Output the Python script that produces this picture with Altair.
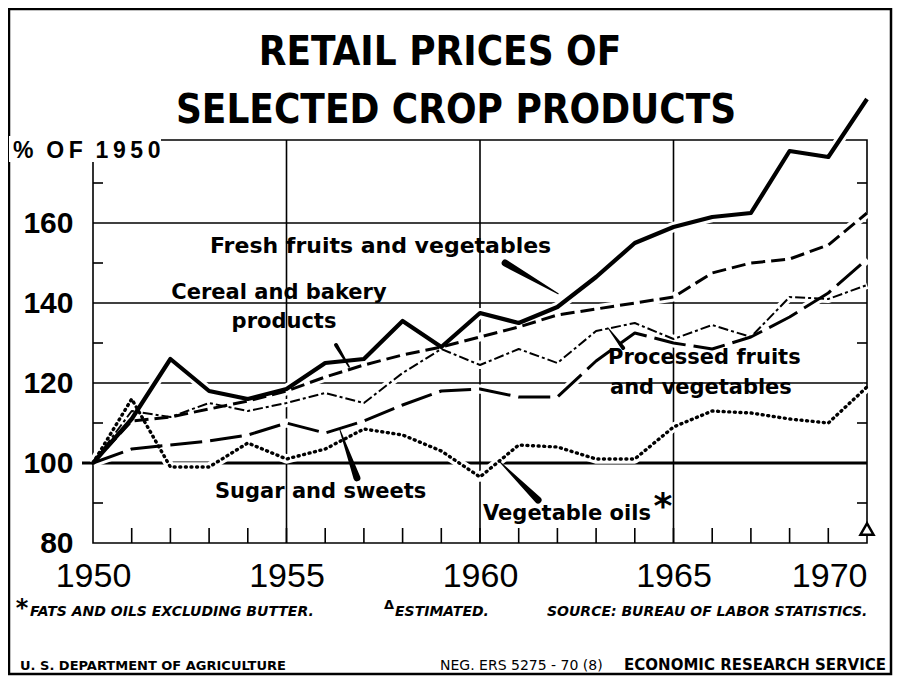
import altair as alt
import pandas as pd

# ---------------- data ----------------
years = list(range(1950, 1971))
fresh = [100, 111, 126, 118, 116, 118.5, 125, 126, 135.5, 129, 137.5, 135, 139,
         146.5, 155, 159, 161.5, 162.5, 178, 176.5, 191]
cereal = [100, 110.5, 111.5, 113.5, 115.5, 118, 121.5, 124.5, 127, 129, 131.5,
          134, 137, 138.5, 140, 141.5, 147.5, 150, 151, 154.5, 162.5]
processed = [100, 113, 111.5, 115, 113, 115, 117.5, 115, 122.5, 128.5, 124.5,
             128.5, 125, 133, 135, 131, 134.5, 131.5, 141.5, 141, 144.5]
sugar = [100, 103.5, 104.5, 105.5, 107, 110, 107.5, 110.5, 114.5, 118, 118.5,
         116.5, 116.5, 125.5, 132.5, 130, 128.5, 131.5, 136.5, 142.5, 151]
vegoil = [100, 116, 99, 99, 105, 101, 103.5, 108.5, 107, 103, 96.5, 104.5, 104,
          101, 101, 109, 113, 112.5, 111, 110, 119]
estimated_year = [1970]
estimated_value = [83.5]

x_labels = [1950, 1955, 1960, 1965, 1970]
y_labels = [80, 100, 120, 140, 160]
h_grid = [120, 140, 160]
base_line = [100]
v_grid = [1955, 1960, 1965]
minor_y = [90, 110, 130, 150, 170]
year_ticks = list(range(1951, 1970))

series_names = ["Fresh", "Cereal", "Processed", "Sugar", "Vegoil"]
series_values = [fresh, cereal, processed, sugar, vegoil]
styles = {
    "Fresh": dict(strokeWidth=4.2),
    "Cereal": dict(strokeWidth=3, strokeDash=[14, 6]),
    "Processed": dict(strokeWidth=2, strokeDash=[10, 3, 3, 3]),
    "Sugar": dict(strokeWidth=3, strokeDash=[32, 8]),
    "Vegoil": dict(strokeWidth=3.4, strokeDash=[1, 4.6], strokeCap="round"),
}

# pointer wedges (annotation geometry, in data units) : id, year, value, width
ptr_id = ["f", "f", "c", "c", "p", "p", "s", "s", "v", "v"]
ptr_order = [0, 1, 0, 1, 0, 1, 0, 1, 0, 1]
ptr_x = [1960.65, 1962.02, 1956.28, 1956.62, 1963.31, 1963.70, 1956.38, 1956.82, 1960.52, 1961.50]
ptr_y = [150.0, 142.3, 129.5, 124.0, 133.75, 128.75, 108.3, 96.3, 100.2, 90.75]
ptr_w = [7, 1, 4, 1.5, 1, 4, 1, 7, 1, 7]

rows = []
for name, vals in zip(series_names, series_values):
    for yr, v in zip(years, vals):
        rows.append({"year": yr, "value": v, "series": name})
df = pd.DataFrame(rows)

W, H = 774, 403
xsc = alt.Scale(domain=[1950, 1970], nice=False, zero=False)
ysc = alt.Scale(domain=[80, 180.75], nice=False, zero=False)

xaxis = alt.Axis(values=x_labels, format="d", title=None, ticks=False, domain=False,
                 grid=False, labelFontSize=34, labelFont="Liberation Sans",
                 labelColor="black", labelPadding=16, labelBaseline="top",
                 labelOverlap=False,
                 labelAlign=alt.ExprRef(expr="datum.value == 1970 ? 'right' : 'center'"))
yaxis = alt.Axis(values=y_labels, title=None, ticks=False, domain=False, grid=False,
                 labelFontSize=30, labelFont="Liberation Sans", labelFontWeight="bold",
                 labelColor="black", labelPadding=20, labelBaseline="middle",
                 labelOverlap=False)


def X(field):
    return alt.X(field, scale=xsc, axis=xaxis)


def Y(field):
    return alt.Y(field, scale=ysc, axis=yaxis)


one = pd.DataFrame({"k": [0]})
layers = []

# outer border
layers.append(alt.Chart(one).mark_rect(filled=False, stroke="black", strokeWidth=2.5).encode(
    x=alt.value(-84), x2=alt.value(798), y=alt.value(-131), y2=alt.value(534)))

# plot frame
layers.append(alt.Chart(one).mark_rect(filled=False, stroke="black", strokeWidth=1.6).encode(
    x=alt.value(0), x2=alt.value(W), y=alt.value(0), y2=alt.value(H)))

# grid lines
layers.append(alt.Chart(pd.DataFrame({"v": h_grid})).mark_rule(color="black", strokeWidth=1.6).encode(
    y=Y("v:Q")))
layers.append(alt.Chart(pd.DataFrame({"v": base_line})).mark_rule(color="black", strokeWidth=3).encode(
    y=Y("v:Q"), x=alt.value(-11), x2=alt.value(W)))
layers.append(alt.Chart(pd.DataFrame({"v": v_grid})).mark_rule(color="black", strokeWidth=1.6).encode(
    x=X("v:Q")))

# minor ticks
layers.append(alt.Chart(pd.DataFrame({"v": minor_y})).mark_rule(color="black", strokeWidth=1.6).encode(
    y=Y("v:Q"), x=alt.value(0), x2=alt.value(10)))
layers.append(alt.Chart(pd.DataFrame({"v": minor_y})).mark_rule(color="black", strokeWidth=1.6).encode(
    y=Y("v:Q"), x=alt.value(W - 10), x2=alt.value(W)))
layers.append(alt.Chart(pd.DataFrame({"v": year_ticks})).mark_rule(color="black", strokeWidth=1.6).encode(
    x=X("v:Q"), y=alt.value(H - 15), y2=alt.value(H)))

# halos
for name in series_names:
    sw = styles[name]["strokeWidth"]
    layers.append(alt.Chart(df).transform_filter(alt.datum.series == name).mark_line(
        color="white", strokeWidth=sw + 6, clip=False, strokeJoin="round").encode(
        x=X("year:Q"), y=Y("value:Q")))

# series lines
for name in series_names:
    layers.append(alt.Chart(df).transform_filter(alt.datum.series == name).mark_line(
        color="black", clip=False, strokeJoin="round", **styles[name]).encode(
        x=X("year:Q"), y=Y("value:Q")))

# pointers
pdf = pd.DataFrame({"id": ptr_id, "o": ptr_order, "x": ptr_x, "y": ptr_y, "w": ptr_w})
layers.append(alt.Chart(pdf).mark_trail(color="black", clip=False).encode(
    x=X("x:Q"), y=Y("y:Q"),
    size=alt.Size("w:Q", scale=None, legend=None), detail="id:N", order="o:Q"))

# estimated marker
layers.append(alt.Chart(pd.DataFrame({"year": estimated_year, "value": estimated_value})).mark_point(
    shape="triangle-up", filled=True, fill="white", stroke="black", strokeWidth=2.5,
    size=170, opacity=1, clip=False).encode(x=X("year:Q"), y=Y("value:Q")))

# white cover behind "% OF 1950"
layers.append(alt.Chart(one).mark_rect(color="white").encode(
    x=alt.value(-84), x2=alt.value(68), y=alt.value(-4), y2=alt.value(22)))


def txt(text, x, y, size, weight="bold", align="left", baseline="alphabetic",
        font="DejaVu Sans", style="normal"):
    return alt.Chart(one).mark_text(
        text=text, align=align, baseline=baseline, fontSize=size, fontWeight=weight,
        font=font, fontStyle=style, color="black").encode(x=alt.value(x), y=alt.value(y))


TITLE_FONT = "Liberation Sans Narrow, DejaVu Sans Condensed, Liberation Sans"
T = "\u2009"
N = "\u00a0"
pct_label = "%" + N + N + "O" + T + "F" + N + N + "1" + T + "9" + T + "5" + T + "0"
layers += [
    txt("RETAIL PRICES OF", 347, -75, 40, font=TITLE_FONT, align="center"),
    txt("SELECTED CROP PRODUCTS", 363, -17, 40, font=TITLE_FONT, align="center"),
    txt(pct_label, -80, 18, 23, font="Liberation Sans"),
    txt("Fresh fruits and vegetables", 117, 106, 22, baseline="middle"),
    txt("Cereal and bakery", 186, 153, 21, align="center", baseline="middle"),
    txt("products", 191, 182, 21, align="center", baseline="middle"),
    txt("Processed fruits", 515, 218, 21, baseline="middle"),
    txt("and vegetables", 517, 248, 21, baseline="middle"),
    txt("Sugar and sweets", 122, 352, 21, baseline="middle"),
    txt("Vegetable oils", 390, 374, 21, baseline="middle"),
    txt("*", 570, 378, 36, align="center"),
    txt("*", -71, 476, 24, align="center"),
    txt("FATS AND OILS EXCLUDING BUTTER.", -63, 476, 14, style="italic"),
    txt("\u0394", 296, 469, 13, align="center"),
    txt("ESTIMATED.", 302, 476, 14, style="italic"),
    txt("SOURCE: BUREAU OF LABOR STATISTICS.", 454, 476, 14, style="italic"),
    txt("U. S. DEPARTMENT OF AGRICULTURE", -73, 530, 13),
    txt("NEG. ERS 5275 - 70 (8)", 347, 530, 14, weight="normal"),
    txt("ECONOMIC RESEARCH SERVICE", 793, 530, 15, align="right"),
]

chart = alt.layer(*layers).properties(
    width=W, height=H,
    padding={"left": 85, "top": 132, "right": 26, "bottom": 133},
    autosize=alt.AutoSizeParams(type="none"),
    background="white",
).configure_view(strokeWidth=0)

chart.save("out.html", embed_options={"renderer": "svg", "actions": False})
